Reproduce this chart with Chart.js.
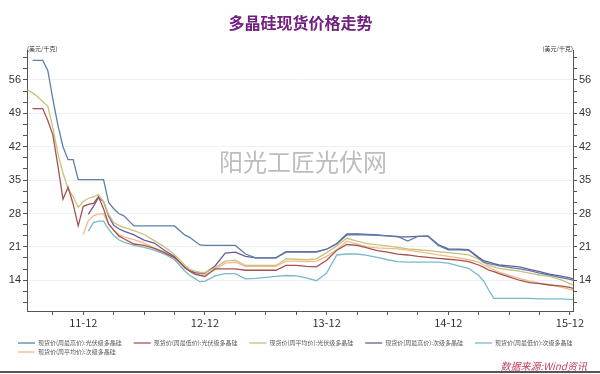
<!DOCTYPE html>
<html lang="zh">
<head>
  <meta charset="UTF-8">
  <title>多晶硅现货价格走势</title>
  <script src="https://cdn.jsdelivr.net/npm/chart.js"></script>
  <style>
    html, body { margin: 0; padding: 0; background: #fff; }
    #wrap { width: 600px; height: 374px; }
  </style>
</head>
<body>
  <div id="wrap"><canvas id="priceChart"></canvas></div>

  <script>
    // months since 2011-06 (6 = 11-12, 18 = 12-12 ...)
    const months = [0.5,1,1.5,2,2.5,3,3.5,4,4.5,5,5.5,6,6.5,7,7.5,8,8.5,9,9.5,10,
      11,12,13,14,15,16,16.5,17,17.5,18,19,20,21,22,23,24,25,26,27,28,29,30,31,32,33,34,35,36,37,38,39,40,
      41,42,43,44,45,45.5,46,46.5,47,48,49,50,51,52,53,54,54.3];

    const seriesNames = [
      '现货价(周最高价):光伏级多晶硅',
      '现货价(周最低价):光伏级多晶硅',
      '现货价(周平均价):光伏级多晶硅',
      '现货价(周最高价):次级多晶硅',
      '现货价(周最低价):次级多晶硅',
      '现货价(周平均价):次级多晶硅'
    ];

    const pvHigh = [null,60.1,60.1,60.1,58,52,46.5,42,39.3,39.3,35.1,35.1,35.1,35.1,35.1,35.1,30.3,29,28,27.5,
      25.4,25.4,25.4,25.4,25.4,23.5,23,22.2,21.4,21.3,21.3,21.3,21.3,19.5,18.7,18.7,18.7,19.9,19.9,19.9,
      19.9,20.5,21.6,23.5,23.6,23.5,23.4,23.3,23.2,22.2,23.2,23.2,21.3,20.4,20.4,20.3,18.6,17.8,17.5,17.3,
      17.0,16.7,16.4,16.0,15.5,15.1,14.6,14.2,14.0];

    const pvLow = [null,50,50,50,47.5,44.5,38,31,33.5,30,25.4,29.5,29.9,30.1,31.5,29,25.8,24.5,23.3,22.7,
      21.6,21.3,20.7,19.8,18.7,16.8,15.9,15.3,15.0,14.8,16.4,16.4,16.4,16.1,16.1,16.1,16.1,17.1,17.1,16.9,
      16.8,18.2,20.3,21.5,21.3,20.8,20.2,19.9,19.5,19.3,19.0,18.8,18.6,18.4,18.2,17.9,17.2,16.7,16.1,15.8,
      15.4,14.7,14.0,13.5,13.3,13.0,12.8,12.5,12.3];

    const pvAvg = [53.9,53.3,52.5,51.5,50.5,46,40.5,36.5,33.2,31.5,29.3,30.5,31.2,31.5,31.9,30.5,27.8,26.1,25.5,25.1,
      24.4,23.6,22.3,21.0,19.4,17.2,16.3,15.9,15.7,15.6,16.6,18.0,18.2,17.1,17.1,17.1,17.1,18.5,18.4,18.3,
      18.5,19.8,21.2,22.8,22.2,21.7,21.4,21.2,20.9,20.6,20.4,20.2,20.0,19.8,19.6,19.3,18.4,17.7,17.1,16.8,
      16.5,16.2,15.9,15.5,15.1,14.8,14.2,13.3,13.0];

    const subHigh = [null,null,null,null,null,null,null,null,null,null,null,null,27.8,29.5,31.3,30.5,27.5,25.5,24.8,24.3,
      23.5,22.4,21.8,20.3,19.0,16.6,16.0,15.6,15.5,15.5,17.0,19.7,19.9,19.0,18.7,18.7,18.7,20.0,20.0,20.0,
      20.0,20.5,21.7,23.7,23.7,23.6,23.5,23.3,23.1,23.1,23.2,23.3,21.5,20.6,20.5,20.4,18.8,18.1,17.8,17.5,
      17.2,17.0,16.8,16.3,15.8,15.3,14.9,14.5,14.3];

    const subLow = [null,null,null,null,null,null,null,null,null,null,null,null,24.3,26.1,26.4,26.4,24.7,23.4,22.5,22.0,
      21.3,20.9,20.3,19.5,18.3,16.0,15.0,14.4,13.7,13.8,14.9,15.4,15.4,14.3,14.4,14.6,14.8,15.0,14.9,14.5,
      13.9,15.5,19.3,19.5,19.5,19.2,18.8,18.3,17.9,17.8,17.8,17.8,17.8,17.6,17.0,16.5,15.0,13.8,11.9,10.2,
      10.2,10.2,10.2,10.2,10.1,10.1,10.1,10.0,10.0];

    const subAvg = [null,null,null,null,null,null,null,null,null,null,null,23.6,26.5,27.5,27.9,27.9,25.8,24.5,23.6,23.1,
      22.5,21.8,20.8,19.9,18.8,16.8,15.9,15.4,15.2,15.2,16.2,17.6,17.8,16.9,16.9,16.9,16.9,18.0,18.0,17.9,
      18.0,19.0,20.4,22.2,21.6,21.0,20.8,20.7,20.6,20.3,20.0,19.7,19.3,19.0,18.7,18.3,17.8,17.2,16.7,16.2,
      15.7,15.0,14.4,13.8,13.4,13.1,12.6,12.1,11.9];

    const seriesValues = [pvHigh, pvLow, pvAvg, subHigh, subLow, subAvg];
    const seriesColors = ['#5a7fa8', '#a5524f', '#c9c27a', '#6b5a9c', '#7ab9c9', '#f2b98a'];

    const xTicks = [3,6,9,12,15,18,21,24,27,30,33,36,39,42,45,48,51,54];
    const yTicks = [];
    for (let k = 1; k <= 23; k++) yTicks.push(7 + k * 7 / 3);

    const isMajor = v => Math.abs(v / 7 - Math.round(v / 7)) < 1e-6;

    Chart.defaults.font.family = "'Noto Sans CJK SC', 'Noto Sans', sans-serif";

    const datasets = seriesNames.map((name, i) => ({
      label: name,
      data: months.map((m, j) => ({ x: m, y: seriesValues[i][j] })),
      borderColor: seriesColors[i],
      backgroundColor: seriesColors[i],
      borderWidth: 1.3,
      pointRadius: 0,
      tension: 0,
      spanGaps: false
    }));

    const yAxis = (pos) => ({
      type: 'linear',
      position: pos,
      min: 7.55,
      max: 62.25,
      afterBuildTicks: s => { s.ticks = yTicks.map(v => ({ value: v })); },
      afterFit: s => { s.width = pos === 'left' ? 21 : 22; },
      border: { color: '#555', width: 1 },
      grid: {
        drawOnChartArea: pos === 'left',
        color: c => (c.tick && isMajor(c.tick.value)) ? '#f0f0f0' : 'rgba(0,0,0,0)',
        tickColor: '#555',
        tickLength: 4
      },
      ticks: {
        padding: 2,
        autoSkip: false,
        color: '#333',
        font: { size: 11, family: "'Liberation Sans', sans-serif" },
        callback: v => isMajor(v) ? String(Math.round(v)) : ''
      }
    });

    const extras = {
      id: 'extras',
      afterLayout(chart) {
        // the legend starts a bit in from the left edge, under the axis labels
        chart.legend.left += 9;
      },
      beforeDatasetsDraw(chart) {
        const { ctx } = chart;
        ctx.save();
        ctx.fillStyle = '#bdbdbd';
        ctx.font = "24px 'Noto Sans CJK SC'";
        ctx.textAlign = 'center';
        ctx.textBaseline = 'middle';
        ctx.fillText('阳光工匠光伏网', 303, 162);
        ctx.restore();
      },
      afterDraw(chart) {
        const { ctx, chartArea } = chart;
        ctx.save();
        ctx.fillStyle = '#333';
        ctx.font = "6px 'Noto Sans CJK SC'";
        ctx.textBaseline = 'middle';
        ctx.textAlign = 'left';
        ctx.fillText('(美元/千克)', chartArea.left, chartArea.top - 1);
        ctx.textAlign = 'right';
        ctx.fillText('(美元/千克)', chartArea.right, chartArea.top - 1);

        ctx.fillStyle = '#c43c5c';
        ctx.font = "italic 10px 'Noto Sans CJK SC'";
        ctx.fillText('数据来源:Wind资讯', 587, 366);

        ctx.fillStyle = '#555';
        ctx.fillRect(0, 371, 600, 2);
        ctx.restore();
      }
    };

    new Chart(document.getElementById('priceChart'), {
      type: 'line',
      data: { datasets: datasets },
      options: {
        responsive: true,
        maintainAspectRatio: false,
        animation: false,
        layout: { padding: { left: 6, right: 5, top: 0, bottom: 9 } },
        plugins: {
          title: {
            display: true,
            text: '多晶硅现货价格走势',
            color: '#72207f',
            font: { size: 16, weight: 'bold' },
            padding: { top: 13, bottom: 18 }
          },
          legend: {
            position: 'bottom',
            align: 'start',
            labels: {
              usePointStyle: true,
              pointStyle: 'line',
              pointStyleWidth: 17,
              boxHeight: 6,
              padding: 3,
              color: '#555',
              font: { size: 6 },
              // keep the real label text, add a little room after it so the items spread like the original
              generateLabels: chart => Chart.defaults.plugins.legend.labels.generateLabels(chart)
                .map(item => Object.assign(item, { text: item.text + '\u2003\u2002' }))
            }
          },
          tooltip: { enabled: false }
        },
        scales: {
          x: {
            type: 'linear',
            min: 0.45,
            max: 54.3,
            afterBuildTicks: s => { s.ticks = xTicks.map(v => ({ value: v })); },
            afterFit: s => { s.height = 26; },
            border: { color: '#555', width: 1 },
            grid: { drawOnChartArea: false, tickColor: '#555', tickLength: 4 },
            ticks: {
              padding: 1,
              maxRotation: 0,
              autoSkip: false,
              color: '#333',
              font: { size: 11 },
              callback: v => (v % 12 === 6) ? (11 + (v - 6) / 12) + '-12' : ''
            }
          },
          y: yAxis('left'),
          y2: yAxis('right')
        }
      },
      plugins: [extras]
    });
  </script>
</body>
</html>
